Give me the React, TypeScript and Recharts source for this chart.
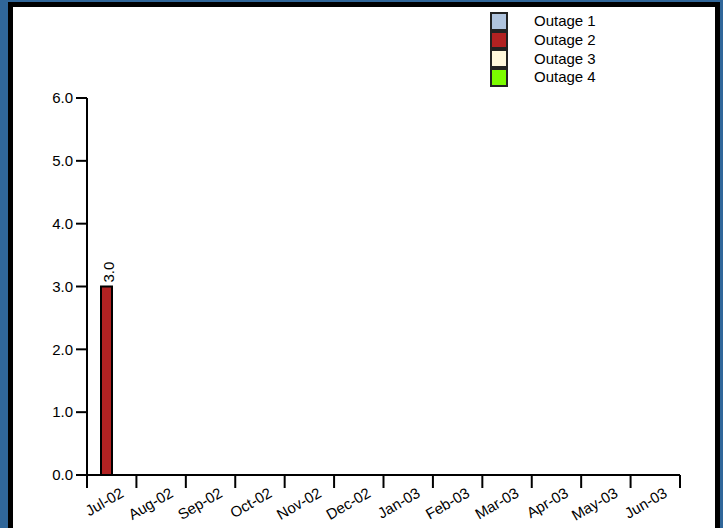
import { BarChart, Bar, XAxis, YAxis, LabelList } from "recharts";

const months = ["Jul-02", "Aug-02", "Sep-02", "Oct-02", "Nov-02", "Dec-02", "Jan-03", "Feb-03", "Mar-03", "Apr-03", "May-03", "Jun-03"];
const outage1 = [0, 0, 0, 0, 0, 0, 0, 0, 0, 0, 0, 0];
const outage2 = [3.0, 0, 0, 0, 0, 0, 0, 0, 0, 0, 0, 0];
const outage3 = [0, 0, 0, 0, 0, 0, 0, 0, 0, 0, 0, 0];
const outage4 = [0, 0, 0, 0, 0, 0, 0, 0, 0, 0, 0, 0];
const seriesNames = ["Outage 1", "Outage 2", "Outage 3", "Outage 4"];
const seriesColors = ["#b0c4de", "#b22222", "#fff8dc", "#7cfc00"];
const yTicks = [0, 1, 2, 3, 4, 5, 6];

const W = 723;
const H = 528;
const M = { top: 98, right: 43, bottom: 13, left: 27 };
const Y_W = 60;
const X_H = 40;
const FONT = "'Liberation Sans', Arial, sans-serif";

const data = months.map((m, i) => ({
  month: m,
  o1: outage1[i],
  o2: outage2[i],
  o3: outage3[i],
  o4: outage4[i],
}));

const bandW = (W - M.left - Y_W - M.right) / months.length;

function MonthTick(props: any) {
  const { x, y, index, payload } = props;
  const right = x + bandW / 2;
  const left = x - bandW / 2;
  const tx = x + 13;
  const ty = y + 21;
  return (
    <g>
      {index === 0 && <line x1={left} y1={y} x2={left} y2={y + 13} stroke="#000" strokeWidth={2} />}
      <line x1={right} y1={y} x2={right} y2={y + 13} stroke="#000" strokeWidth={2} />
      <text
        x={tx}
        y={ty}
        textAnchor="end"
        fontSize={15}
        fontFamily={FONT}
        fill="#000"
        transform={`rotate(-30, ${tx}, ${ty})`}
      >
        {payload.value}
      </text>
    </g>
  );
}

function ValueLabel(props: any) {
  const { x, y, width, value } = props;
  if (!value) return null;
  const px = x + width / 2 + 7;
  const py = y - 4;
  return (
    <text x={px} y={py} fontSize={15} fontFamily={FONT} fill="#000" transform={`rotate(-90, ${px}, ${py})`}>
      {Number(value).toFixed(1)}
    </text>
  );
}

export default function App() {
  const keys = ["o1", "o2", "o3", "o4"];
  return (
    <div style={{ position: "absolute", left: 0, top: 0, width: W, height: H, background: "#306699", overflow: "hidden" }}>
      <div
        style={{
          position: "absolute",
          left: 8,
          top: 2,
          width: 712,
          height: 560,
          background: "#fff",
          border: "5px solid #000",
          boxSizing: "border-box",
        }}
      />
      <div style={{ position: "absolute", left: 0, top: 0 }}>
        <BarChart width={W} height={H} data={data} margin={M} barGap={0} barSize={11}>
          <XAxis
            dataKey="month"
            height={X_H}
            interval={0}
            tickSize={0}
            tickMargin={0}
            tickLine={false}
            axisLine={{ stroke: "#000", strokeWidth: 2 }}
            tick={<MonthTick />}
          />
          <YAxis
            width={Y_W}
            domain={[0, 6]}
            ticks={yTicks}
            interval={0}
            tickSize={11}
            tickMargin={3}
            tickFormatter={(v) => Number(v).toFixed(1)}
            axisLine={{ stroke: "#000", strokeWidth: 2 }}
            tickLine={{ stroke: "#000", strokeWidth: 2 }}
            tick={{ fill: "#000", fontSize: 15, fontFamily: FONT }}
          />
          {keys.map((k, i) => (
            <Bar key={k} dataKey={k} name={seriesNames[i]} fill={seriesColors[i]} stroke="#000" strokeWidth={2} isAnimationActive={false}>
              <LabelList dataKey={k} content={<ValueLabel />} />
            </Bar>
          ))}
        </BarChart>
      </div>
      <div style={{ position: "absolute", left: 490, top: 12, fontFamily: FONT, fontSize: 15, color: "#000" }}>
        {seriesNames.map((n, i) => (
          <div key={n} style={{ display: "flex", alignItems: "center", height: 18.7 }}>
            <div
              style={{
                width: 18,
                height: 18.7,
                boxSizing: "border-box",
                border: "2px solid #222",
                background: seriesColors[i],
              }}
            />
            <span style={{ marginLeft: 26, lineHeight: "18px" }}>{n}</span>
          </div>
        ))}
      </div>
    </div>
  );
}
